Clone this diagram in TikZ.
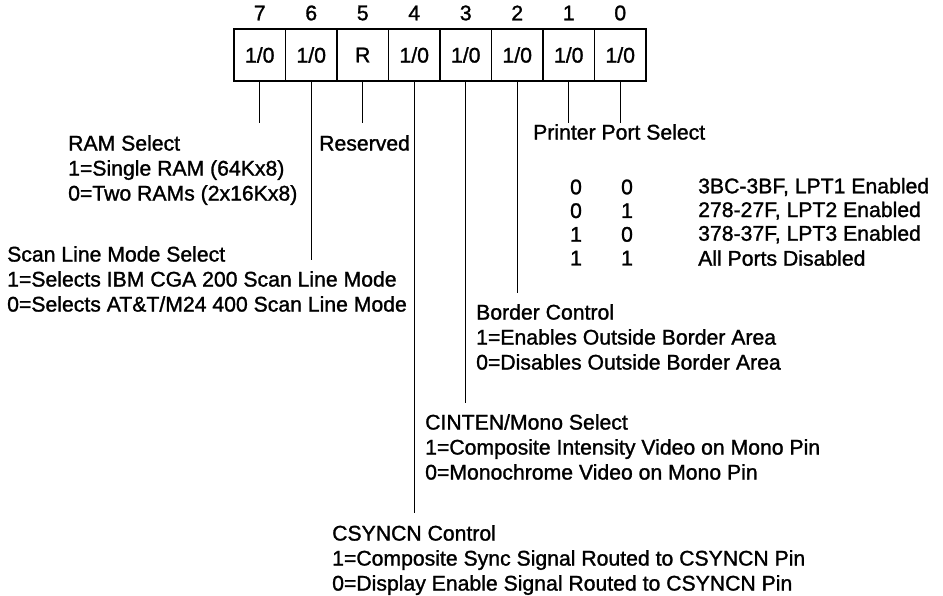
\documentclass[tikz,border=0pt]{standalone}
\usepackage{fontspec}
\setmainfont{Liberation Sans}[RawFeature={embolden=1.3}]
\begin{document}
\begin{tikzpicture}[x=1pt,y=-1pt,
  txt/.style={font=\fontsize{21.2}{25}\selectfont, inner sep=0pt, anchor=north west, align=left},
  cell/.style={draw, line width=1.2pt, minimum width=51.5pt, minimum height=52pt, inner sep=0pt, font=\fontsize{21.2}{25}\selectfont},
  bitnum/.style={font=\fontsize{21.2}{25}\selectfont, inner sep=0pt},
  lead/.style={line width=1.2pt},
  tab/.style={font=\fontsize{21.2}{25}\selectfont, inner sep=0pt}]
\useasboundingbox (0,0) rectangle (943,596);
% register cells
\foreach \b/\v [count=\i from 0] in {7/1\slash 0,6/1\slash 0,5/R,4/1\slash 0,3/1\slash 0,2/1\slash 0,1/1\slash 0,0/1\slash 0}{
  \node[cell] (c\b) at (259.75+51.5*\i,55) {\v};
  \node[bitnum] (n\b) at (259.75+51.5*\i,13) {\b};
}
% leader end points
\coordinate (e7) at (c7.south |- 0,123);
\coordinate (e6) at (c6.south |- 0,260);
\coordinate (e5) at (c5.south |- 0,123);
\coordinate (e4) at (c4.south |- 0,513);
\coordinate (e3) at (c3.south |- 0,403);
\coordinate (e2) at (c2.south |- 0,293);
\coordinate (e1) at (c1.south |- 0,123);
\coordinate (e0) at (c0.south |- 0,123);
\foreach \b in {7,6,5,4,3,2,1,0}{ \draw[lead] (c\b.south) -- (e\b); }
% labels
\node[txt] (ram) at (68,135) {RAM Select\\1=Single RAM (64Kx8)\\0=Two RAMs (2x16Kx8)};
\node[txt] (res) at (319,135) {Reserved};
\node[txt] (scan) at (7,246) {Scan Line Mode Select\\1=Selects IBM CGA 200 Scan Line Mode\\0=Selects AT\&T/M24 400 Scan Line Mode};
\node[txt] (pps) at (533,124) {Printer Port Select};
\foreach \a/\bb/\t [count=\r from 0] in {0/0/{3BC-3BF, LPT1 Enabled},0/1/{278-27F, LPT2 Enabled},1/0/{378-37F, LPT3 Enabled},1/1/{All Ports Disabled}}{
  \node[tab] (ta\r) at (576,187+23.7*\r) {\a};
  \node[tab] (tb\r) at (627,187+23.7*\r) {\bb};
  \node[tab, anchor=west] (tt\r) at (698,187+23.7*\r) {\t};
}
\node[txt] (bord) at (476,304) {Border Control\\1=Enables Outside Border Area\\0=Disables Outside Border Area};
\node[txt] (cint) at (425,414) {CINTEN/Mono Select\\1=Composite Intensity Video on Mono Pin\\0=Monochrome Video on Mono Pin};
\node[txt] (csync) at (332,525) {CSYNCN Control\\1=Composite Sync Signal Routed to CSYNCN Pin\\0=Display Enable Signal Routed to CSYNCN Pin};
\end{tikzpicture}
\end{document}
